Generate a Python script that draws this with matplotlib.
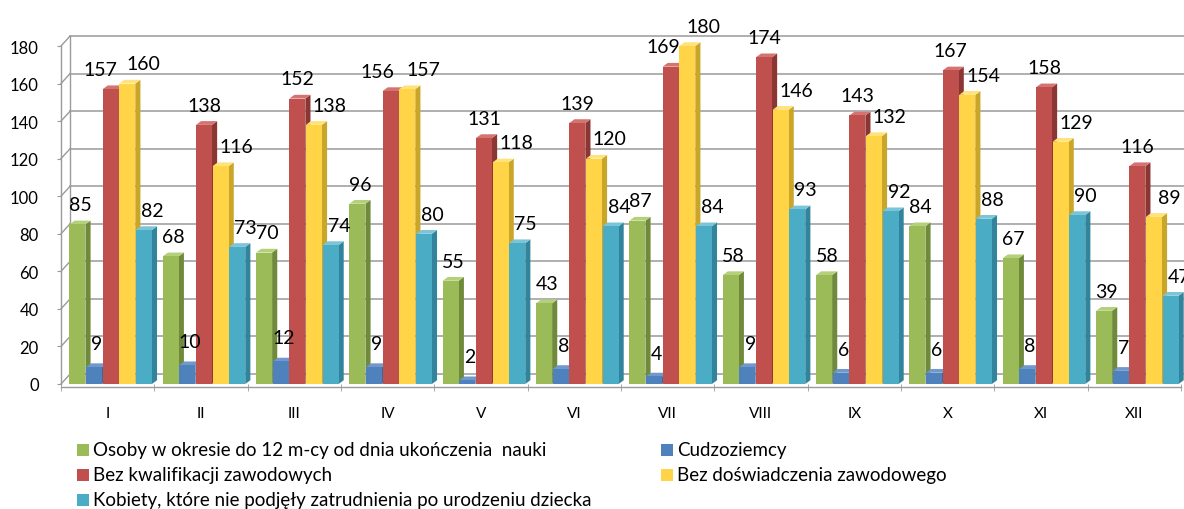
import matplotlib.pyplot as plt
from matplotlib.patches import Rectangle
import numpy as np

months = ["I", "II", "III", "IV", "V", "VI", "VII", "VIII", "IX", "X", "XI", "XII"]
osoby = [85, 68, 70, 96, 55, 43, 87, 58, 58, 84, 67, 39]
cudzoziemcy = [9, 10, 12, 9, 2, 8, 4, 9, 6, 6, 8, 7]
bez_kwal = [157, 138, 152, 156, 131, 139, 169, 174, 143, 167, 158, 116]
bez_dosw = [160, 116, 138, 157, 118, 120, 180, 146, 132, 154, 129, 89]
kobiety = [82, 73, 74, 80, 75, 84, 84, 93, 92, 88, 90, 47]

labels = ["Osoby w okresie do 12 m-cy od dnia ukończenia  nauki",
          "Cudzoziemcy",
          "Bez kwalifikacji zawodowych",
          "Bez doświadczenia zawodowego",
          "Kobiety, które nie podjęły zatrudnienia po urodzeniu dziecka"]
series = [osoby, cudzoziemcy, bez_kwal, bez_dosw, kobiety]
front = ["#9BBB59", "#4F81BD", "#C0504D", "#FFD447", "#4BACC6"]
side = ["#6E8A3A", "#385D8A", "#8C3634", "#C9A52A", "#31849B"]
top = ["#B5D07A", "#7098CC", "#D47370", "#FFE27A", "#7CC4D8"]
lab_dx = [0.03, 0.03, 0.0, 0.17, 0.09]   # label shift (category units)
lab_dy = [10.5, 12.5, 10.5, 10.5, 10.5]
# red labels pushed left where they'd collide with the yellow ones
red_nudge = [-0.11, 0, 0, -0.14, 0, 0, -0.08, 0, 0, 0, 0, 0]

W, H = 1184, 510
fig = plt.figure(figsize=(W / 100, H / 100), dpi=100)
ax = fig.add_axes([61 / W, (H - 385) / H, 1120 / W, 338 / H])
ax.set_xlim(0, 12)
ax.set_ylim(0, 180)
for s in ax.spines.values():
    s.set_visible(False)

font = "Lato"
grid_c = "#9a9a9a"
wdx, wdy = 0.097, 5.3   # back wall offset

# back wall gridlines + slanted connectors
for v in range(0, 181, 20):
    ax.plot([wdx, 12 + wdx], [v + wdy, v + wdy], color=grid_c, lw=1.1, clip_on=False, zorder=1)
    ax.plot([0, wdx], [v, v + wdy], color=grid_c, lw=1, clip_on=False, zorder=1)
ax.plot([wdx, wdx], [wdy, 180 + wdy], color=grid_c, lw=1, clip_on=False, zorder=1)
ax.plot([0, 0], [0, 180], color=grid_c, lw=1, clip_on=False, zorder=1)
ax.plot([0, 12], [-1.5, -1.5], color=grid_c, lw=1, clip_on=False, zorder=1)

# bars with pseudo-3D faces
bw, bp, off = 0.172, 0.178, 0.09
dx, dy = 0.055, 2.0
for i in range(12):
    for j, vals in enumerate(series):
        v = vals[i]
        x0 = i + off + j * bp
        z = 5 + i * 10 + j
        ax.fill([x0 + bw, x0 + bw + dx, x0 + bw + dx, x0 + bw],
                [0, dy, v + dy, v], color=side[j], lw=0, clip_on=False, zorder=z)
        ax.fill([x0, x0 + dx, x0 + bw + dx, x0 + bw],
                [v, v + dy, v + dy, v], color=top[j], lw=0, clip_on=False, zorder=z)
        ax.fill([x0, x0 + bw, x0 + bw, x0], [0, 0, v, v],
                color=front[j], lw=0, clip_on=False, zorder=z)
        lx = x0 + bw / 2 + lab_dx[j] + (red_nudge[i] if j == 2 else 0)
        ax.text(lx, v + lab_dy[j], str(v), ha="center", va="center",
                fontsize=14, family=font, color="black", zorder=200, clip_on=False)

ax.set_yticks(range(0, 181, 20))
ax.set_yticklabels([str(v) for v in range(0, 181, 20)], family=font, fontsize=12)
ax.tick_params(axis="y", length=3, color=grid_c, pad=13)
ax.set_xticks(np.arange(12) + 0.5)
ax.set_xticklabels(months, family=font, fontsize=11)
ax.tick_params(axis="x", length=0, pad=16)
ax.set_xticks(np.arange(13), minor=True)
ax.tick_params(axis="x", which="minor", length=5, color=grid_c)

# legend
leg = [(77, 451, 0), (661, 451, 1), (77, 476, 2), (661, 476, 3), (77, 501, 4)]
for px, py, k in leg:
    fig.add_artist(Rectangle((px / W, (H - py - 6) / H), 12 / W, 12 / H,
                             transform=fig.transFigure, color=front[k], lw=0))
    fig.text((px + 16) / W, (H - py) / H, labels[k], ha="left", va="center",
             fontsize=13.5, family=font)

fig.savefig("out.png", dpi=100)
